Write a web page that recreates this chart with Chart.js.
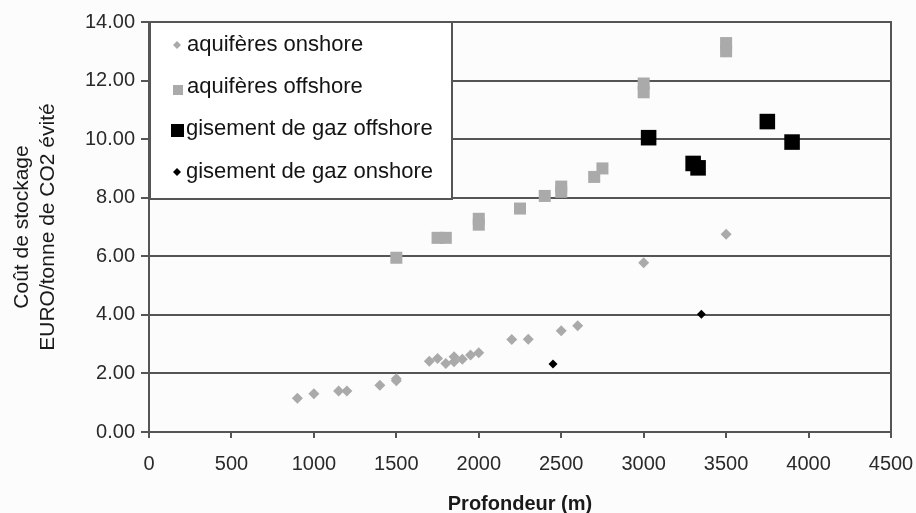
<!DOCTYPE html>
<html>
<head>
<meta charset="utf-8">
<script src="https://cdn.jsdelivr.net/npm/chart.js@4/dist/chart.umd.min.js"></script>
<style>
  html, body { margin: 0; padding: 0; background: #fcfcfc; }
  #wrap { width: 916px; height: 513px; }
</style>
</head>
<body>
<div id="wrap"><canvas id="storageChart" width="916" height="513"></canvas></div>
<script>
// Profondeur (m) / coût (EURO/tonne de CO2 évité)
const onshoreAquiferDepth = [900, 1000, 1150, 1200, 1400, 1500, 1500, 1700, 1750, 1800, 1850, 1850, 1900, 1950, 2000, 2200, 2300, 2500, 2600, 3000, 3500];
const onshoreAquiferCost  = [1.15, 1.31, 1.40, 1.40, 1.60, 1.75, 1.82, 2.42, 2.51, 2.34, 2.57, 2.40, 2.48, 2.63, 2.71, 3.16, 3.17, 3.46, 3.63, 5.78, 6.75];

const offshoreAquiferDepth = [1500, 1750, 1800, 2000, 2000, 2250, 2400, 2500, 2500, 2700, 2750, 3000, 3000, 3500, 3500];
const offshoreAquiferCost  = [5.95, 6.63, 6.63, 7.08, 7.28, 7.63, 8.06, 8.20, 8.38, 8.71, 9.00, 11.60, 11.90, 13.00, 13.28];

const offshoreGasDepth = [3030, 3300, 3330, 3750, 3900];
const offshoreGasCost  = [10.05, 9.17, 9.02, 10.60, 9.90];

const onshoreGasDepth = [2450, 3350];
const onshoreGasCost  = [2.32, 4.02];

const seriesNames = ['aquifères onshore', 'aquifères offshore', 'gisement de gaz offshore', 'gisement de gaz onshore'];

const toPoints = (xs, ys) => xs.map((x, i) => ({ x: x, y: ys[i] }));

// legend box sits inside the plot, top-left, over the grid lines
const boxLegend = {
    id: 'boxLegend',
    afterDraw(chart) {
        const ctx = chart.ctx;
        const area = chart.chartArea;
        const left = area.left + 1, top = area.top, w = 302, h = 177;
        ctx.save();
        ctx.fillStyle = '#ffffff';
        ctx.fillRect(left, top, w, h);
        ctx.strokeStyle = '#555555';
        ctx.lineWidth = 2;
        ctx.strokeRect(left, top, w, h);

        ctx.font = '22px "Liberation Sans", Arial, sans-serif';
        ctx.textBaseline = 'middle';
        const rows = [45, 87, 129, 172];
        rows.forEach((ry, i) => {
            const mx = left + 27;
            ctx.fillStyle = i < 2 ? '#aaaaaa' : '#000000';
            ctx.beginPath();
            if (i === 1) {
                ctx.rect(mx - 4, ry - 2, 10, 10);
            } else if (i === 2) {
                ctx.rect(mx - 6, ry - 5, 13, 13);
            } else {
                ctx.moveTo(mx - 4, ry); ctx.lineTo(mx, ry - 4); ctx.lineTo(mx + 4, ry); ctx.lineTo(mx, ry + 4);
            }
            ctx.fill();
            ctx.fillStyle = '#141414';
            ctx.fillText(seriesNames[i], i < 2 ? left + 37 : left + 36, ry);
        });
        ctx.restore();
    }
};

// outer frame of the plot area (top and right edges)
const plotFrame = {
    id: 'plotFrame',
    beforeDatasetsDraw(chart) {
        const ctx = chart.ctx;
        const a = chart.chartArea;
        ctx.save();
        ctx.strokeStyle = '#555555';
        ctx.lineWidth = 2;
        ctx.strokeRect(a.left, a.top, a.right - a.left, a.bottom - a.top);
        ctx.restore();
    }
};

const ctx = document.getElementById('storageChart').getContext('2d');

new Chart(ctx, {
    type: 'scatter',
    data: {
        datasets: [{
            label: seriesNames[0],
            data: toPoints(onshoreAquiferDepth, onshoreAquiferCost),
            pointStyle: 'rectRot',
            pointRadius: 5.5,
            backgroundColor: '#aaaaaa',
            borderWidth: 0
        }, {
            label: seriesNames[1],
            data: toPoints(offshoreAquiferDepth, offshoreAquiferCost),
            pointStyle: 'rect',
            pointRadius: 8.5,
            backgroundColor: '#aaaaaa',
            borderWidth: 0
        }, {
            label: seriesNames[2],
            data: toPoints(offshoreGasDepth, offshoreGasCost),
            pointStyle: 'rect',
            pointRadius: 11,
            backgroundColor: '#000000',
            borderWidth: 0
        }, {
            label: seriesNames[3],
            data: toPoints(onshoreGasDepth, onshoreGasCost),
            pointStyle: 'rectRot',
            pointRadius: 4.5,
            backgroundColor: '#000000',
            borderWidth: 0
        }]
    },
    options: {
        responsive: false,
        animation: false,
        layout: { padding: { left: 10, right: 0, top: 22, bottom: 0 } },
        plugins: {
            legend: { display: false },
            tooltip: { enabled: false }
        },
        scales: {
            x: {
                type: 'linear',
                min: 0,
                max: 4500,
                afterFit: (scale) => {
                    scale.height = 81;
                    scale.paddingRight = 25;
                },
                ticks: {
                    stepSize: 500,
                    color: '#2a2a2a',
                    padding: 14,
                    maxRotation: 0,
                    callback: (v) => String(v),
                    font: { family: '"Liberation Sans", Arial, sans-serif', size: 20 }
                },
                grid: {
                    drawOnChartArea: false,
                    color: '#555555',
                    lineWidth: 2,
                    tickLength: 6
                },
                border: { color: '#555555', width: 2 },
                title: {
                    display: true,
                    text: 'Profondeur (m)',
                    color: '#1a1a1a',
                    padding: { top: 6, bottom: -3 },
                    font: { family: '"Liberation Sans", Arial, sans-serif', size: 20, weight: 'bold' }
                }
            },
            y: {
                min: 0,
                max: 14,
                afterFit: (scale) => { scale.width = 139; },
                ticks: {
                    stepSize: 2,
                    color: '#2a2a2a',
                    padding: 6,
                    callback: (v) => v.toFixed(2),
                    font: { family: '"Liberation Sans", Arial, sans-serif', size: 20 }
                },
                grid: {
                    color: '#555555',
                    lineWidth: 2,
                    tickLength: 8
                },
                border: { color: '#555555', width: 2 },
                title: {
                    display: true,
                    text: ['Coût de stockage', 'EURO/tonne de CO2 évité'],
                    color: '#1a1a1a',
                    padding: { top: 0, bottom: 4 },
                    font: { family: '"Liberation Sans", Arial, sans-serif', size: 21, lineHeight: 1.2 }
                }
            }
        }
    },
    plugins: [plotFrame, boxLegend]
});
</script>
</body>
</html>
